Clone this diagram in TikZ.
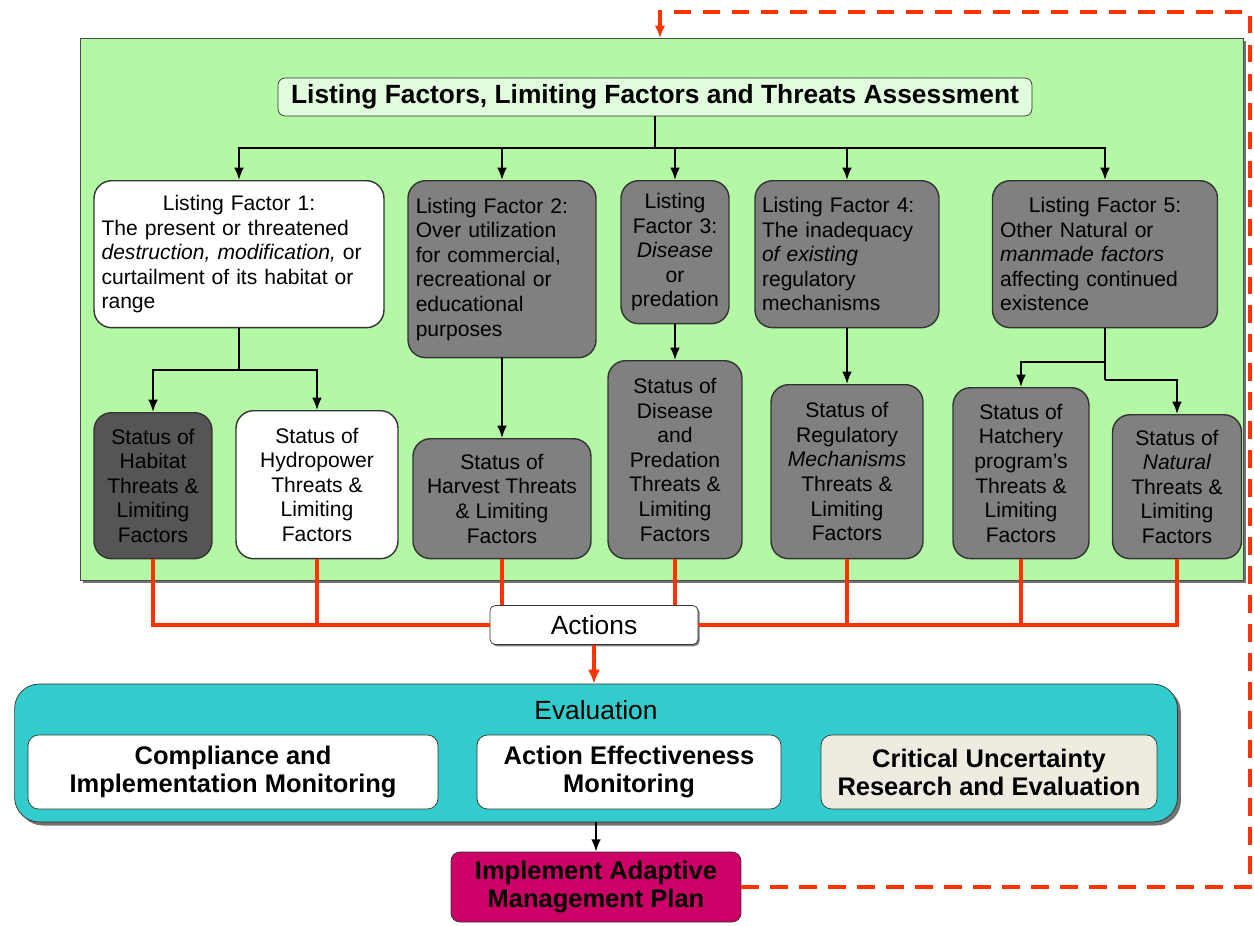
\documentclass[tikz,border=0pt]{standalone}
\usepackage{fontspec}
\setmainfont{Liberation Sans}
\usetikzlibrary{shapes,arrows,arrows.meta,shadows}

\definecolor{panelgreen}{RGB}{180,248,166}
\definecolor{titlegreen}{RGB}{226,252,222}
\definecolor{boxgray}{RGB}{128,128,128}
\definecolor{darkgray}{RGB}{85,85,85}
\definecolor{evalteal}{RGB}{51,204,204}
\definecolor{beige}{RGB}{238,236,225}
\definecolor{planmagenta}{RGB}{204,0,102}
\definecolor{linered}{RGB}{255,51,0}

\begin{document}
\begin{tikzpicture}[x=0.02cm, y=-0.02cm, >={Latex[length=7pt, width=5.5pt]}, font=\fontsize{12}{14}\selectfont]
			\tikzset{
				panel/.style={rectangle, draw=black!70, fill=panelgreen, drop shadow={shadow xshift=1.5pt, shadow yshift=-1.5pt, fill=black!55, opacity=1}},
				titlebox/.style={rectangle, rounded corners=4pt, draw=black!80, fill=titlegreen, font=\fontsize{15}{17}\selectfont\bfseries},
				whitebox/.style={rectangle, rounded corners=10pt, draw=black!80, thick, fill=white, inner sep=3pt},
				graybox/.style={rectangle, rounded corners=10pt, draw=black!80, thick, fill=boxgray, inner sep=3pt},
				darkbox/.style={rectangle, rounded corners=10pt, draw=black!80, thick, fill=darkgray, inner sep=3pt},
				actionbox/.style={rectangle, rounded corners=3pt, draw=black!80, fill=white, font=\fontsize{15}{17}\selectfont, drop shadow={shadow xshift=1pt, shadow yshift=-1pt, fill=black!50, opacity=1}},
				evalbox/.style={rectangle, rounded corners=14pt, draw=black!80, fill=evalteal, drop shadow={shadow xshift=2pt, shadow yshift=-2pt, fill=black!55, opacity=1}},
				monbox/.style={rectangle, rounded corners=6pt, draw=black!80, fill=white, align=center, font=\fontsize{14.5}{16}\selectfont\bfseries},
				planbox/.style={rectangle, rounded corners=5pt, draw=black!80, fill=planmagenta, align=center, font=\fontsize{14.5}{16}\selectfont\bfseries},
				arrow/.style={line width=1pt, ->},
				redline/.style={draw=linered, line width=2.3pt},
				feedback/.style={draw=linered, line width=2.8pt, dash pattern=on 10pt off 6.5pt, -{Latex[length=7pt, width=6pt]}},
			}
			\useasboundingbox (0,0) rectangle (1254,926);
			\node[panel, anchor=north west, minimum width=23.26cm, minimum height=10.84cm](panel) at (80,38){};
			\node[titlebox, minimum width=15.08cm, minimum height=0.76cm](title) at (655,97){Listing Factors, Limiting Factors and Threats Assessment};
			%listing factors
			\node[whitebox, anchor=north, minimum width=5.8cm, minimum height=2.94cm, text width=5.5cm, align=left](lf1) at (239,180){\makebox[\linewidth]{Listing Factor 1:}\\The present or threatened\\\textit{destruction, modification,} or\\curtailment of its habitat or\\range};
			\node[graybox, anchor=north, minimum width=3.76cm, minimum height=3.54cm, text width=3.45cm, align=left](lf2) at (502,180){Listing Factor 2:\\Over utilization\\for commercial,\\recreational or\\educational\\purposes};
			\node[graybox, anchor=north, minimum width=2.16cm, minimum height=2.86cm, text width=1.9cm, align=center](lf3) at (675,180){Listing\\Factor 3:\\\textit{Disease}\\or\\predation};
			\node[graybox, anchor=north, minimum width=3.68cm, minimum height=2.94cm, text width=3.4cm, align=left](lf4) at (847,180){Listing Factor 4:\\The inadequacy\\\textit{of existing}\\regulatory\\mechanisms};
			\node[graybox, anchor=north, minimum width=4.5cm, minimum height=2.94cm, text width=4.2cm, align=left](lf5) at (1105,180){\makebox[\linewidth]{Listing Factor 5:}\\Other Natural or\\\textit{manmade factors}\\affecting continued\\existence};
			%status of threats
			\node[darkbox, anchor=north, minimum width=2.36cm, minimum height=2.92cm, align=center](shab) at (153,412){Status of\\Habitat\\Threats \&\\Limiting\\Factors};
			\node[whitebox, anchor=north, minimum width=3.24cm, minimum height=2.96cm, align=center](shyd) at (317,410){Status of\\Hydropower\\Threats \&\\Limiting\\Factors};
			\node[graybox, anchor=north, minimum width=3.56cm, minimum height=2.4cm, align=center](shar) at (502,438){Status of\\Harvest Threats\\\& Limiting\\Factors};
			\node[graybox, anchor=north, minimum width=2.68cm, minimum height=3.96cm, align=center](sdis) at (675,360){Status of\\Disease\\and\\Predation\\Threats \&\\Limiting\\Factors};
			\node[graybox, anchor=north, minimum width=3.04cm, minimum height=3.48cm, align=center](sreg) at (847,384){Status of\\Regulatory\\\textit{Mechanisms}\\Threats \&\\Limiting\\Factors};
			\node[graybox, anchor=north, minimum width=2.72cm, minimum height=3.42cm, align=center](shat) at (1021,387){Status of\\Hatchery\\program's\\Threats \&\\Limiting\\Factors};
			\node[graybox, anchor=north, minimum width=2.58cm, minimum height=2.88cm, align=center](snat) at (1177,414){Status of\\\textit{Natural}\\Threats \&\\Limiting\\Factors};
			%actions and evaluation
			\node[actionbox, minimum width=4.16cm, minimum height=0.78cm](act) at (594,625){Actions};
			\node[evalbox, minimum width=23.26cm, minimum height=2.76cm](eval) at (596,753){};
			\node[font=\fontsize{15}{17}\selectfont](evaltitle) at (596,710){Evaluation};
			\node[monbox, minimum width=8.2cm, minimum height=1.48cm](comp) at (233,772){Compliance and\\Implementation Monitoring};
			\node[monbox, minimum width=6.08cm, minimum height=1.48cm](aeff) at (629,772){Action Effectiveness\\Monitoring};
			\node[monbox, fill=beige, minimum width=6.72cm, minimum height=1.48cm](crit) at (989,772){Critical Uncertainty\\Research and Evaluation};
			\node[planbox, minimum width=5.8cm, minimum height=1.4cm](iamp) at (596,887){Implement Adaptive\\Management Plan};
			%draw arrows
			\coordinate (bus) at (655,148);
			\draw[line width=1pt] (title.south) -- (bus);
			\foreach \lf in {lf1,lf2,lf3,lf4,lf5}
				\draw[arrow] (bus) -| (\lf.north);
			\coordinate (lfbus) at (239,370);
			\draw[line width=1pt] (lf1.south) -- (lfbus);
			\draw[arrow] (lfbus) -| (shab.north);
			\draw[arrow] (lfbus) -| (shyd.north);
			\draw[arrow] (lf2.south) -- (shar.north);
			\draw[arrow] (lf3.south) -- (sdis.north);
			\draw[arrow] (lf4.south) -- (sreg.north);
			\coordinate (lfbusa) at (1105,362);
			\coordinate (lfbusb) at (1105,380);
			\draw[line width=1pt] (lf5.south) -- (lfbusb);
			\draw[arrow] (lfbusa) -| (shat.north);
			\draw[arrow] (lfbusb) -| (snat.north);
			%red lines to actions
			\draw[redline] (shab.south) |- (act.west);
			\draw[redline] (shyd.south) -- (shyd.south |- act.west);
			\draw[redline] (shar.south) -- (shar.south |- act.north);
			\draw[redline] (sdis.south) -- (sdis.south |- act.north);
			\draw[redline] (snat.south) |- (act.east);
			\draw[redline] (sreg.south) -- (sreg.south |- act.east);
			\draw[redline] (shat.south) -- (shat.south |- act.east);
			\draw[redline, -{Latex[length=8pt, width=7pt]}] (act.south) -- (act.south |- eval.north);
			\draw[arrow] (eval.south) -- (iamp.north);
			%feedback loop
			\coordinate (fbr) at (1250,887);
			\coordinate (fbt) at (1250,12);
			\coordinate (fbl) at (660,12);
			\draw[feedback] (iamp.east) -- (fbr) -- (fbt) -- (fbl) -- (fbl |- panel.north);
		\end{tikzpicture}
\end{document}
